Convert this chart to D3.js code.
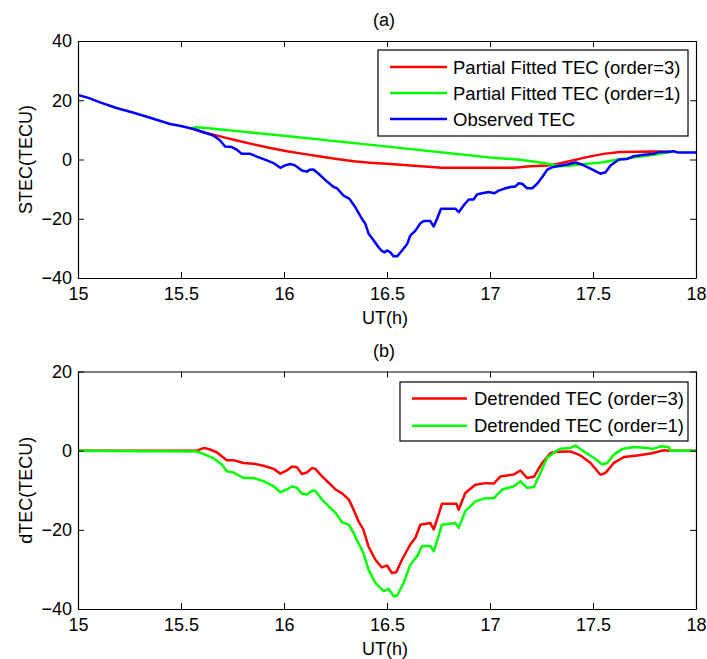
<!DOCTYPE html>
<html>
<head>
<meta charset="utf-8">
<script src="https://cdn.jsdelivr.net/npm/d3@7"></script>
<style>
  html, body { margin: 0; padding: 0; background: #fff; }
  svg { display: block; font-family: "Liberation Sans", Arial, Helvetica, sans-serif; }
</style>
</head>
<body>
<svg id="fig" width="707" height="659"></svg>
<script>
// ---- Time axis (UT hours) and tick labels ----
const xTicks = [15, 15.5, 16, 16.5, 17, 17.5, 18];
const yTicksA = [-40, -20, 0, 20, 40];
const yTicksB = [-40, -20, 0, 20];

// ---- Panel (a): slant TEC ----
const observedT = [15.00, 15.05, 15.107, 15.187, 15.27, 15.35, 15.447, 15.50, 15.56, 15.609,
  15.657, 15.69, 15.714, 15.747, 15.771, 15.795, 15.836, 15.868, 15.917, 15.949,
  15.982, 16.006, 16.03, 16.054, 16.087, 16.111, 16.124, 16.143, 16.168, 16.20,
  16.241, 16.257, 16.289, 16.318, 16.346, 16.378, 16.395, 16.411, 16.435, 16.459,
  16.475, 16.49, 16.50, 16.516, 16.532, 16.549, 16.573, 16.598, 16.613, 16.638,
  16.662, 16.678, 16.710, 16.727, 16.743, 16.762, 16.832, 16.848, 16.872, 16.897,
  16.92, 16.937, 16.961, 16.994, 17.021, 17.042, 17.067, 17.099, 17.124, 17.140,
  17.156, 17.180, 17.205, 17.229, 17.253, 17.277, 17.302, 17.334, 17.375, 17.415,
  17.447, 17.488, 17.536, 17.561, 17.585, 17.626, 17.666, 17.698, 17.747, 17.795,
  17.82, 17.86, 17.893, 17.909, 18.0];
const observedV = [21.8, 20.8, 19.3, 17.4, 15.8, 14.1, 12.0, 11.3, 10.3, 9.2,
  8.1, 6.4, 4.4, 4.2, 3.3, 1.9, 1.9, 1.0, -0.3, -1.2,
  -2.8, -2.0, -1.5, -2.0, -3.7, -4.1, -3.5, -3.4, -4.8, -6.9,
  -9.3, -9.7, -12.2, -13.3, -16.1, -20.0, -21.7, -25.1, -27.3, -29.6,
  -30.9, -31.3, -30.7, -31.3, -32.7, -32.7, -30.7, -28.5, -25.7, -24.0,
  -21.5, -20.8, -20.8, -22.6, -20.0, -16.6, -16.6, -17.8, -15.5, -13.5,
  -13.5, -11.8, -11.4, -11.0, -11.4, -10.5, -9.9, -9.3, -9.1, -8.0,
  -8.2, -9.7, -9.7, -8.2, -6.0, -3.5, -2.6, -2.2, -1.7, -1.0,
  -1.7, -3.1, -4.8, -4.3, -2.0, 0.0, 0.2, 1.1, 1.6, 1.9,
  2.5, 2.5, 2.8, 2.4, 2.4];

const fit3T = [15.55, 15.609, 15.69, 15.771, 15.852, 15.933, 16.014, 16.095, 16.176, 16.257,
  16.338, 16.419, 16.516, 16.613, 16.767, 16.905, 17.115, 17.196, 17.277, 17.326,
  17.39, 17.47, 17.551, 17.632, 17.795, 17.88];
const fit3V = [10.6, 9.2, 7.8, 6.4, 5.1, 3.9, 2.8, 1.9, 1.0, 0.2,
  -0.6, -1.1, -1.5, -2.0, -2.8, -2.8, -2.8, -2.3, -2.0, -1.5,
  -0.5, 0.8, 1.9, 2.5, 2.7, 2.6];

const fit1T = [15.56, 15.609, 16.0, 16.468, 17.0, 17.148, 17.26, 17.342, 17.39, 17.55,
  17.62, 17.715, 17.795, 17.88];
const fit1V = [10.9, 10.7, 8.0, 4.6, 0.7, -0.1, -1.2, -2.3, -2.0, -0.9,
  0.0, 0.8, 1.6, 2.6];

// ---- Panel (b): detrended TEC ----
const dtec3T = [15.0, 15.577, 15.612, 15.641, 15.673, 15.722, 15.754, 15.803, 15.852, 15.90,
  15.95, 15.982, 16.014, 16.039, 16.063, 16.087, 16.111, 16.136, 16.152, 16.185,
  16.217, 16.25, 16.282, 16.314, 16.338, 16.363, 16.385, 16.41, 16.443, 16.475,
  16.50, 16.524, 16.545, 16.573, 16.613, 16.638, 16.662, 16.710, 16.727, 16.75,
  16.767, 16.837, 16.848, 16.88, 16.929, 16.978, 17.019, 17.051, 17.116, 17.148,
  17.18, 17.213, 17.253, 17.294, 17.326, 17.39, 17.439, 17.488, 17.536, 17.561,
  17.601, 17.65, 17.715, 17.78, 17.844, 17.87, 18.0];
const dtec3V = [0, 0, 0.7, 0.3, -0.4, -2.4, -2.4, -3.1, -3.3, -3.8,
  -4.6, -5.8, -5.0, -4.0, -4.2, -5.9, -5.5, -4.4, -4.6, -6.5,
  -8.1, -9.8, -10.8, -12.3, -14.9, -18.0, -19.9, -24.2, -27.5, -29.5,
  -29.0, -30.9, -30.7, -27.5, -23.7, -22.0, -18.7, -18.3, -19.9, -16.2,
  -13.4, -13.4, -14.9, -10.7, -8.6, -8.2, -8.3, -6.5, -6.0, -5.0,
  -6.9, -6.6, -3.1, -0.6, -0.3, -0.2, -1.2, -3.1, -6.1, -5.6,
  -3.1, -1.6, -1.2, -0.7, 0.1, 0, 0];

const dtec1T = [15.0, 15.577, 15.609, 15.657, 15.698, 15.722, 15.754, 15.803, 15.852, 15.90,
  15.95, 15.982, 16.014, 16.039, 16.063, 16.087, 16.111, 16.136, 16.152, 16.185,
  16.217, 16.25, 16.282, 16.314, 16.338, 16.353, 16.385, 16.41, 16.443, 16.484,
  16.508, 16.532, 16.549, 16.581, 16.613, 16.646, 16.67, 16.71, 16.727, 16.75,
  16.767, 16.832, 16.848, 16.88, 16.929, 16.978, 17.019, 17.06, 17.116, 17.148,
  17.18, 17.213, 17.245, 17.277, 17.318, 17.342, 17.39, 17.415, 17.455, 17.504,
  17.545, 17.569, 17.601, 17.642, 17.698, 17.763, 17.787, 17.828, 17.869, 17.875,
  18.0];
const dtec1V = [0, -0.2, -0.8, -1.9, -3.5, -5.2, -5.5, -6.9, -6.9, -7.7,
  -9.0, -10.5, -9.8, -9.0, -9.4, -10.9, -11.1, -10.1, -10.1, -12.4,
  -14.1, -15.7, -18.1, -18.7, -20.8, -22.5, -25.8, -30.0, -33.4, -35.5,
  -34.9, -36.8, -36.6, -33.4, -28.8, -26.7, -24.1, -24.1, -25.4, -21.6,
  -18.7, -18.3, -19.5, -15.3, -12.8, -12.0, -12.0, -9.8, -9.0, -7.7,
  -9.4, -9.2, -5.6, -1.8, -0.2, 0.5, 0.7, 1.3, -0.2, -1.8,
  -3.5, -3.1, -1.0, 0.4, 0.9, 0.7, 0.4, 1.1, 0.9, 0,
  0];

// ---- Figure layout ----
const svg = d3.select("#fig");
const FONT = 18;
const LEGEND_FONT = 18.5;
const left = 78, right = 696;

const pair = (ts, vs) => ts.map((t, i) => [t, vs[i]]);

function drawPanel(cfg) {
  const x = d3.scaleLinear().domain([15, 18]).range([left, right]);
  const y = d3.scaleLinear().domain(cfg.yDomain).range([cfg.bottom, cfg.top]);
  const g = svg.append("g");

  // curves
  const line = d3.line().x(d => x(d[0])).y(d => y(d[1]));
  const clipId = "clip-" + cfg.title.replace(/\W/g, "");
  svg.append("clipPath").attr("id", clipId)
    .append("rect").attr("x", left).attr("y", cfg.top)
    .attr("width", right - left).attr("height", cfg.bottom - cfg.top);
  const curves = g.append("g").attr("clip-path", `url(#${clipId})`);
  cfg.series.forEach(s => {
    curves.append("path")
      .attr("d", line(pair(s.t, s.v)))
      .attr("fill", "none")
      .attr("stroke", s.color)
      .attr("stroke-width", 2.5)
      .attr("stroke-linejoin", "round");
  });

  // box axes with inward ticks on all four sides
  const tickLen = 6;
  const axB = d3.axisBottom(x).tickValues(xTicks).tickFormat(d3.format("")).tickSizeInner(-tickLen).tickSizeOuter(0).tickPadding(9);
  const axT = d3.axisTop(x).tickValues(xTicks).tickFormat("").tickSizeInner(-tickLen).tickSizeOuter(0);
  const axL = d3.axisLeft(y).tickValues(cfg.yTicks).tickFormat(d3.format("")).tickSizeInner(-tickLen).tickSizeOuter(0).tickPadding(6);
  const axR = d3.axisRight(y).tickValues(cfg.yTicks).tickFormat("").tickSizeInner(-tickLen).tickSizeOuter(0);

  const style = sel => {
    sel.selectAll("path.domain").attr("stroke", "#000").attr("stroke-width", 1.2);
    sel.selectAll(".tick line").attr("stroke", "#000").attr("stroke-width", 1);
    sel.selectAll(".tick text").attr("fill", "#000")
      .style("font-size", FONT + "px").style("font-family", "'Liberation Sans', Arial, sans-serif");
  };
  g.append("g").attr("transform", `translate(0,${cfg.bottom})`).call(axB).call(style);
  g.append("g").attr("transform", `translate(0,${cfg.top})`).call(axT).call(style);
  g.append("g").attr("transform", `translate(${left},0)`).call(axL).call(style);
  g.append("g").attr("transform", `translate(${right},0)`).call(axR).call(style);

  // title, axis labels
  g.append("text").attr("x", (left + right) / 2 - 3).attr("y", cfg.top - 15)
    .attr("text-anchor", "middle").style("font-size", FONT + "px").text(cfg.title);
  g.append("text").attr("x", (left + right) / 2 - 2).attr("y", cfg.bottom + 46)
    .attr("text-anchor", "middle").style("font-size", FONT + "px").text("UT(h)");
  g.append("text")
    .attr("transform", `translate(32,${(cfg.top + cfg.bottom) / 2}) rotate(-90)`)
    .attr("text-anchor", "middle").style("font-size", FONT + "px").text(cfg.ylabel);

  // legend
  const L = cfg.legend;
  const lg = g.append("g");
  lg.append("rect").attr("x", L.x0).attr("y", L.y0)
    .attr("width", L.x1 - L.x0).attr("height", L.y1 - L.y0)
    .attr("fill", "#fff").attr("stroke", "#000").attr("stroke-width", 1.2);
  L.items.forEach((it, i) => {
    const yy = L.firstRow + i * L.rowStep;
    lg.append("line").attr("x1", L.lineX0).attr("x2", L.lineX1)
      .attr("y1", yy).attr("y2", yy)
      .attr("stroke", it.color).attr("stroke-width", 2.5);
    lg.append("text").attr("x", L.textX).attr("y", yy + 6.5)
      .style("font-size", LEGEND_FONT + "px").text(it.label);
  });
}

drawPanel({
  title: "(a)", ylabel: "STEC(TECU)",
  top: 41, bottom: 278, yDomain: [-40, 40], yTicks: yTicksA,
  series: [
    { t: fit3T, v: fit3V, color: "#ff0000" },
    { t: fit1T, v: fit1V, color: "#00ff00" },
    { t: observedT, v: observedV, color: "#0000ff" }
  ],
  legend: {
    x0: 378, x1: 688, y0: 50, y1: 136,
    lineX0: 390, lineX1: 447, textX: 453, firstRow: 67, rowStep: 26,
    items: [
      { color: "#ff0000", label: "Partial Fitted TEC (order=3)" },
      { color: "#00ff00", label: "Partial Fitted TEC (order=1)" },
      { color: "#0000ff", label: "Observed TEC" }
    ]
  }
});

drawPanel({
  title: "(b)", ylabel: "dTEC(TECU)",
  top: 371.5, bottom: 609, yDomain: [-40, 20], yTicks: yTicksB,
  series: [
    { t: dtec3T, v: dtec3V, color: "#ff0000" },
    { t: dtec1T, v: dtec1V, color: "#00ff00" }
  ],
  legend: {
    x0: 400, x1: 688, y0: 382, y1: 441,
    lineX0: 412, lineX1: 467, textX: 474, firstRow: 398.5, rowStep: 27.3,
    items: [
      { color: "#ff0000", label: "Detrended TEC (order=3)" },
      { color: "#00ff00", label: "Detrended TEC (order=1)" }
    ]
  }
});
</script>
</body>
</html>
